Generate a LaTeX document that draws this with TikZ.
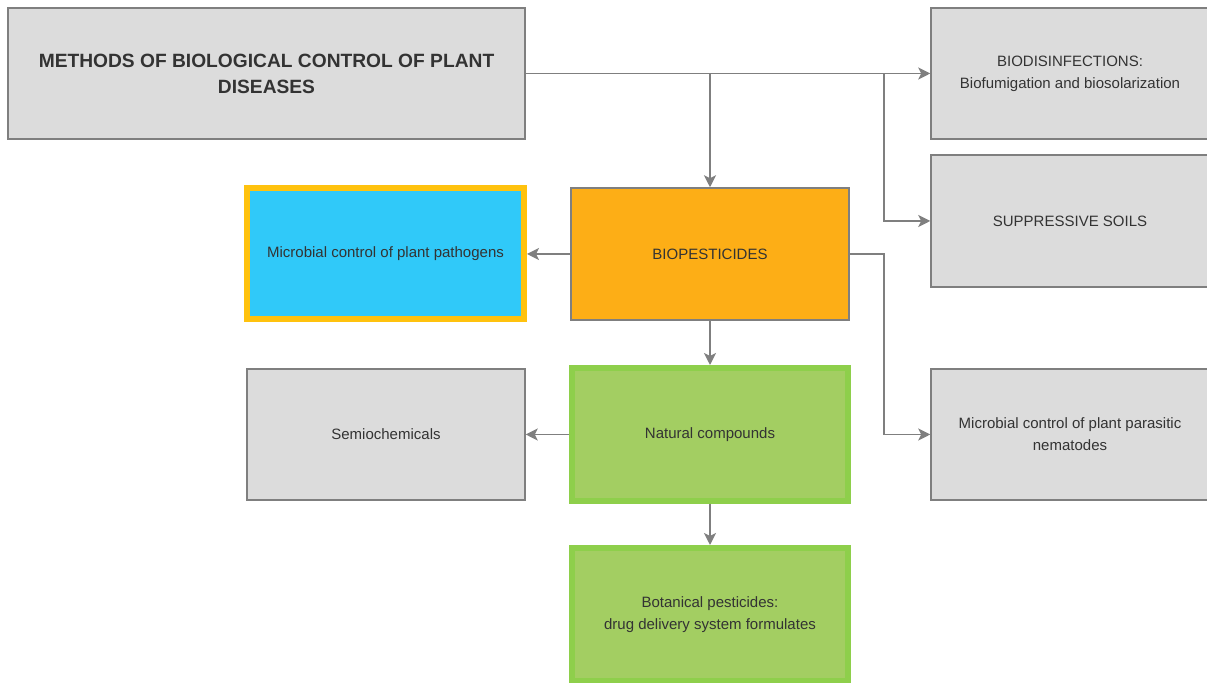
\documentclass[tikz,border=0pt]{standalone}
\usepackage{fontspec}
\setmainfont{Liberation Sans}
\usetikzlibrary{arrows.meta}

\definecolor{boxgray}{HTML}{DCDCDC}
\definecolor{linegray}{HTML}{7F7F7F}
\definecolor{textgray}{HTML}{333333}
\definecolor{skyblue}{HTML}{30C9F9}
\definecolor{goldrim}{HTML}{FFC20E}
\definecolor{orangefill}{HTML}{FDAE16}
\definecolor{greenrim}{HTML}{8ECF4B}
\definecolor{greenfill}{HTML}{A3CE62}

\tikzset{
  box/.style={draw=linegray, line width=0.75pt, inner sep=0pt, align=center,
    text=textgray, font=\fontsize{7.5}{11}\selectfont},
  graybox/.style={box, fill=boxgray, minimum width=139pt, minimum height=65.5pt},
  greenbox/.style={box, fill=greenfill, draw=greenrim, line width=3pt,
    minimum width=138pt, minimum height=66.5pt},
  arr/.style={draw=linegray, line width=0.75pt, -{Stealth[length=6pt,width=6pt,inset=1.5pt]}}
}

\begin{document}
\begin{tikzpicture}[x=0.5pt, y=-0.5pt]
                        
                        \useasboundingbox (0,0) rectangle (1207,683);
                        \clip (0,0) rectangle (1207,683);

                        \node[graybox, minimum width=258.5pt, font=\fontsize{9.6}{13}\selectfont\bfseries] (methods) at (266.5,73.5) {METHODS OF BIOLOGICAL CONTROL OF PLANT\\DISEASES};
                        \node[graybox] (biodis) at (1070,73.5) {BIODISINFECTIONS:\\Biofumigation and biosolarization};
                        \node[graybox, minimum height=66pt] (soils) at (1070,221) {SUPPRESSIVE SOILS};
                        \node[graybox] (nematodes) at (1070,434.5) {Microbial control of plant parasitic\\nematodes};
                        \node[box, fill=skyblue, draw=goldrim, line width=3pt, minimum width=138.5pt, minimum height=65.5pt] (pathogens) at (385.5,254) {Microbial control of plant pathogens};
                        \node[box, fill=orangefill, minimum width=139pt, minimum height=66pt] (biopest) at (710,254) {BIOPESTICIDES};
                        \node[graybox] (semio) at (386,434.5) {Semiochemicals};
                        \node[greenbox] (natural) at (710,434.5) {Natural compounds};
                        \node[greenbox] (botanical) at (710,614.5) {Botanical pesticides:\\drug delivery system formulates};

                        \coordinate (split) at (884,73.5);
                        \draw[arr] (methods.east) -- (biodis.west);
                        \draw[arr] (methods.east -| biopest.north) -- (biopest.north);
                        \draw[arr] (split) |- (soils.west);
                        \draw[arr] (biopest.west) -- (pathogens.east);
                        \draw[arr] (biopest.east) -- (split |- biopest.east) |- (nematodes.west);
                        \draw[arr] (biopest.south) -- (natural.north);
                        \draw[arr] (natural.west) -- (semio.east);
                        \draw[arr] (natural.south) -- (botanical.north);

                    \end{tikzpicture}
\end{document}
